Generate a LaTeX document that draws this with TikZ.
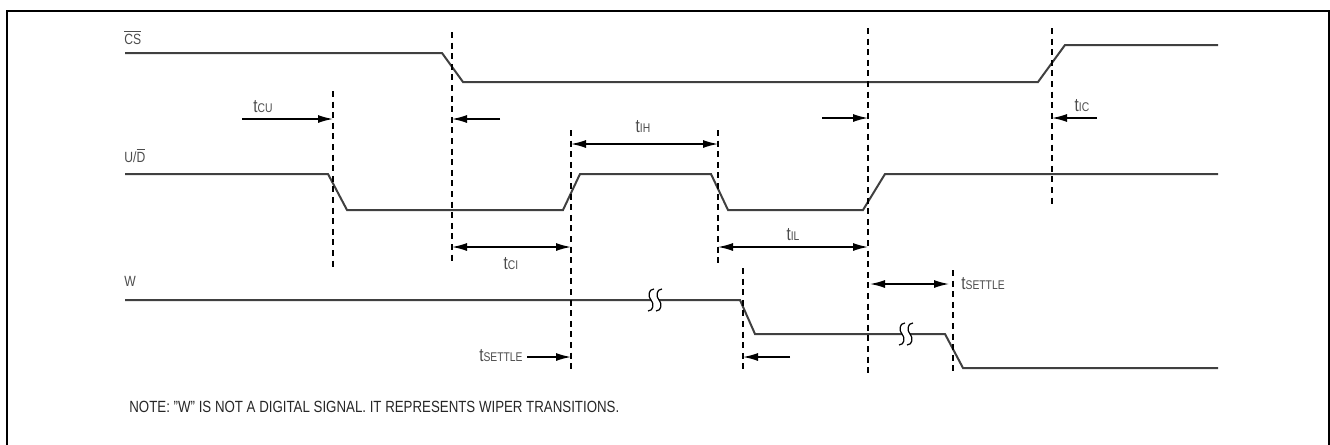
\documentclass[tikz,border=0pt]{standalone}
\usepackage{fontspec}
\setmainfont{Liberation Sans}[FakeStretch=0.82]
\usetikzlibrary{arrows.meta}
\definecolor{sigcol}{gray}{0.25}
\definecolor{txtcol}{gray}{0.3}
\newcommand{\tsub}[1]{{\fontsize{9.3}{10}\selectfont t}{\fontsize{6.3}{7}\selectfont #1}}
\newcommand{\wavebreak}[2]{%
  \begin{scope}[shift={(#1,#2)}]
    \fill[white] (-1,-11) .. controls (-7,-11) and (-7,-3) .. (-4,0) .. controls (-1,3) and (-1,11) .. (-7,11)
      -- (1,11) .. controls (7,11) and (7,3) .. (4,0) .. controls (1,-3) and (1,-11) .. (7,-11) -- cycle;
    \draw[line width=0.6pt,black] (-1,-11) .. controls (-7,-11) and (-7,-3) .. (-4,0) .. controls (-1,3) and (-1,11) .. (-7,11);
    \draw[line width=0.6pt,black] (7,-11) .. controls (1,-11) and (1,-3) .. (4,0) .. controls (7,3) and (7,11) .. (1,11);
  \end{scope}}
\begin{document}
\begin{tikzpicture}[x=0.5pt,y=-0.5pt,
  sig/.style={line width=1pt,draw=sigcol,line join=miter},
  guide/.style={line width=0.65pt,draw=black,dash pattern=on 3pt off 2.3pt},
  dim/.style={line width=0.7pt,draw=black,-{Latex[length=7.5pt,width=4pt]}},
  dimd/.style={line width=0.7pt,draw=black,{Latex[length=7.5pt,width=4pt]}-{Latex[length=7.5pt,width=4pt]}},
  lbl/.style={inner sep=0pt,text=txtcol,font=\fontsize{7.4}{8}\selectfont},
  tl/.style={inner sep=0pt,text=txtcol}]
\useasboundingbox (0,0) rectangle (1330,445);
% frame
\draw[line width=1.2pt] (7,446) -- (7,11) -- (1329,11) -- (1329,446);

% signal labels
\node[lbl,anchor=west] (cslbl) at (124,37) {$\overline{\hbox{CS}}$};
\node[lbl,anchor=west] (udlbl) at (124,155) {U/$\overline{\hbox{D}}$};
\node[lbl,anchor=west] (wlbl) at (124,281) {W};

% waveforms
\draw[sig] (125,53) -- (442,53) -- (463,82) -- (1038,82) -- (1065,45) -- (1218,45);
\draw[sig] (125,174) -- (328,174) -- (347,210) -- (563,210) -- (580,174) -- (711,174) -- (728,210) -- (863,210) -- (885,174) -- (1218,174);
\draw[sig] (125,300) -- (740,300) -- (755,334) -- (945,334) -- (963,368) -- (1218,368);
\wavebreak{655}{300}
\wavebreak{906}{334}

% guide lines
\coordinate (d0t) at (333,91);  \coordinate (d0b) at (333,267);
\coordinate (d1t) at (452,32);  \coordinate (d1b) at (452,263);
\coordinate (d2t) at (571,130); \coordinate (d2b) at (571,372);
\coordinate (d3t) at (718,130); \coordinate (d3b) at (718,265);
\coordinate (d4t) at (868,28);  \coordinate (d4b) at (868,375);
\coordinate (d5t) at (1052,28); \coordinate (d5b) at (1052,208);
\coordinate (d6t) at (743,268); \coordinate (d6b) at (743,370);
\coordinate (d7t) at (953,270); \coordinate (d7b) at (953,375);
\foreach \d in {d0,d1,d2,d3,d4,d5,d6,d7} \draw[guide] (\d t) -- (\d b);

% arrows
\coordinate (a1s) at (242,119); \coordinate (a1e) at (333,119);
\coordinate (a2s) at (500,119); \coordinate (a2e) at (452,119);
\coordinate (a3s) at (822,118); \coordinate (a3e) at (868,118);
\coordinate (a4s) at (1097,118); \coordinate (a4e) at (1052,118);
\coordinate (a5s) at (571,144); \coordinate (a5e) at (718,144);
\coordinate (a6s) at (452,247); \coordinate (a6e) at (571,247);
\coordinate (a7s) at (718,247); \coordinate (a7e) at (868,247);
\coordinate (a8s) at (870,284); \coordinate (a8e) at (949,284);
\coordinate (a9s) at (527,357); \coordinate (a9e) at (571,357);
\coordinate (a10s) at (790,357); \coordinate (a10e) at (743,357);
\draw[dim] (a1s) -- (a1e);
\draw[dim] (a2s) -- (a2e);
\draw[dim] (a3s) -- (a3e);
\draw[dim] (a4s) -- (a4e);
\draw[dimd] (a5s) -- (a5e);
\draw[dimd] (a6s) -- (a6e);
\draw[dimd] (a7s) -- (a7e);
\draw[dimd] (a8s) -- (a8e);
\draw[dim] (a9s) -- (a9e);
\draw[dim] (a10s) -- (a10e);

% timing labels
\node[tl] (tcu) at (263,107) {\tsub{CU}};
\node[tl] (tih) at (643,127) {\tsub{IH}};
\node[tl] (tic) at (1082,106) {\tsub{IC}};
\node[tl] (tci) at (511,264) {\tsub{CI}};
\node[tl] (til) at (793,235) {\tsub{IL}};
\node[tl,anchor=west] (ts1) at (961,284) {\tsub{SETTLE}};
\node[tl,anchor=east] (ts2) at (523,356) {\tsub{SETTLE}};

% note
\node[inner sep=0pt,anchor=west,text=black!85,font=\fontsize{8.1}{9}\selectfont] (note) at (129,407)
  {NOTE: "W" IS NOT A DIGITAL SIGNAL. IT REPRESENTS WIPER TRANSITIONS.};
\end{tikzpicture}
\end{document}
